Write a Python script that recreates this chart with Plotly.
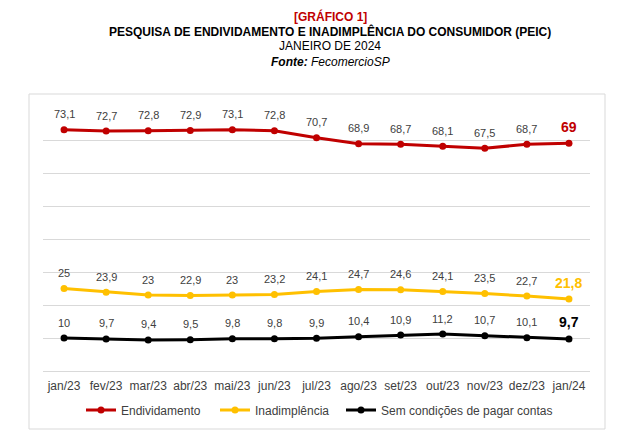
import plotly.graph_objects as go

months = ["jan/23", "fev/23", "mar/23", "abr/23", "mai/23", "jun/23", "jul/23",
          "ago/23", "set/23", "out/23", "nov/23", "dez/23", "jan/24"]
endividamento = [73.1, 72.7, 72.8, 72.9, 73.1, 72.8, 70.7, 68.9, 68.7, 68.1, 67.5, 68.7, 69]
inadimplencia = [25, 23.9, 23, 22.9, 23, 23.2, 24.1, 24.7, 24.6, 24.1, 23.5, 22.7, 21.8]
sem_condicoes = [10, 9.7, 9.4, 9.5, 9.8, 9.8, 9.9, 10.4, 10.9, 11.2, 10.7, 10.1, 9.7]

series_names = ["Endividamento", "Inadimplência", "Sem condições de pagar contas"]
series_values = [endividamento, inadimplencia, sem_condicoes]
series_colors = ["#C00000", "#FFC000", "#000000"]
legend_ids = ["legend", "legend2", "legend3"]
legend_line_start = [86, 220, 346]  # page px where each legend symbol starts

title_lines = [
    "<b>[GRÁFICO 1]</b>",
    "<b>PESQUISA DE ENDIVIDAMENTO E INADIMPLÊNCIA DO CONSUMIDOR (PEIC)</b>",
    "JANEIRO DE 2024",
    "<b><i>Fonte:</i></b><i> FecomercioSP</i>",
]
title_colors = ["#C00000", "#000000", "#000000", "#000000"]
title_y = [16, 31, 46, 62]

FONT = "Liberation Sans, Arial, sans-serif"

def fmt(v):
    return f"{v:g}".replace(".", ",")

# page body has an 8px default margin: shift targets accordingly
OFF = 8
W, H = 642, 448
L, R, T, B = 43 - OFF, 590 - OFF, 107 - OFF, 371 - OFF
pw, ph = R - L, B - T

def px_x(p):
    return (p - OFF - L) / pw

def px_y(p):
    return (B - (p - OFF)) / ph

fig = go.Figure()
annotations = []
for name, vals, color, lg in zip(series_names, series_values, series_colors, legend_ids):
    fig.add_trace(go.Scatter(
        x=months, y=vals, name=name, mode="lines+markers",
        line=dict(color=color, width=3),
        marker=dict(color=color, size=7),
        legend=lg, cliponaxis=False,
    ))
    n = len(vals)
    for i, (m, v) in enumerate(zip(months, vals)):
        last = i == n - 1
        annotations.append(dict(
            x=m, y=v, xref="x", yref="y", showarrow=False,
            text=("<b>" + fmt(v) + "</b>") if last else fmt(v),
            font=dict(family=FONT, size=14 if last else 11,
                      color=color if last else "#404040"),
            xanchor="center", yanchor="middle",
            yshift=16.5 if last else 15.5,
        ))

legend_common = dict(orientation="h", xref="container", yref="container",
                     xanchor="left", yanchor="middle", y=1 - (410 - OFF) / H,
                     font=dict(family=FONT, size=12, color="#404040"),
                     itemclick=False, itemdoubleclick=False,
                     bgcolor="rgba(0,0,0,0)")
legends = {}
for lg, xs in zip(legend_ids, legend_line_start):
    legends[lg] = dict(legend_common, x=(xs - OFF - 5) / W)

for txt, col, yy in zip(title_lines, title_colors, title_y):
    annotations.append(dict(
        xref="paper", yref="paper", x=px_x(330), y=px_y(yy),
        xanchor="center", yanchor="middle", showarrow=False, align="center",
        font=dict(family=FONT, size=12, color=col), text=txt,
    ))

fig.update_layout(
    width=W, height=H,
    margin=dict(l=L, r=W - R, t=T, b=H - B, autoexpand=False),
    paper_bgcolor="white", plot_bgcolor="white",
    font=dict(family=FONT, size=12, color="#404040"),
    showlegend=True,
    xaxis=dict(type="category", showgrid=False, showline=True,
               linecolor="#D9D9D9", linewidth=1, ticks="",
               ticklabelstandoff=4, automargin=False,
               tickfont=dict(family=FONT, size=12, color="#404040"),
               range=[-0.5, 12.5], fixedrange=True),
    yaxis=dict(range=[0, 80], dtick=10, showgrid=True, gridcolor="#D9D9D9",
               gridwidth=1, zeroline=False, showticklabels=False, ticks="",
               automargin=False, fixedrange=True),
    shapes=[dict(type="rect", xref="paper", yref="paper",
                 x0=px_x(29), x1=px_x(605), y0=px_y(429), y1=px_y(94),
                 line=dict(color="#D9D9D9", width=1), fillcolor="rgba(0,0,0,0)",
                 layer="below")],
    annotations=annotations,
    **legends,
)

fig.write_html("out.html")
